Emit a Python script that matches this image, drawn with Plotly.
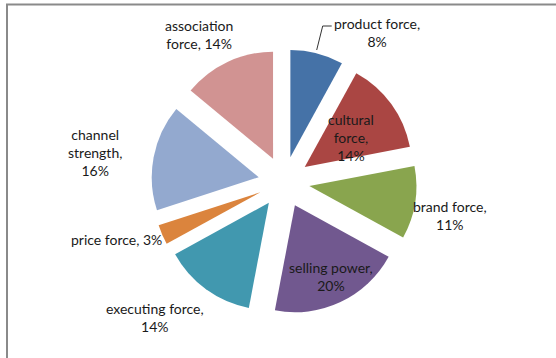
import plotly.graph_objects as go

# Data
labels = ["product force", "cultural force", "brand force", "selling power",
          "executing force", "price force", "channel strength", "association force"]
values = [8, 14, 11, 20, 14, 3, 16, 14]
label_text = ["product force,<br>8%", "cultural<br>force,<br>14%", "brand force,<br>11%",
              "selling power,<br>20%", "executing force,<br>14%", "price force, 3%",
              "channel<br>strength,<br>16%", "association<br>force, 14%"]
colors = ["#4572A7", "#AA4643", "#89A54E", "#71588F",
          "#4198AF", "#DB843D", "#93A9CF", "#D19392"]

W, H = 556, 358
# label centers in pixels (layout)
label_pos = [(377, 32), (351, 137), (450, 215), (331, 276),
             (155, 317), (116, 239), (95, 152), (199, 35)]

fig = go.Figure(go.Pie(
    labels=labels, values=values, sort=False, direction="clockwise", rotation=0,
    pull=[0.24] * len(values),
    marker=dict(colors=colors, line=dict(width=0)),
    textinfo="none", hoverinfo="label+percent", showlegend=False,
    domain=dict(x=[0.2721, 0.7494], y=[0.1209, 0.8623]),
))

for t, (px, py) in zip(label_text, label_pos):
    fig.add_annotation(x=px / W, y=1 - py / H, xref="paper", yref="paper",
                       text=t, showarrow=False, xanchor="center", yanchor="middle",
                       font=dict(family="Lato", size=14, color="#1a1a1a"))

# leader line for product force
fig.add_shape(type="path", xref="paper", yref="paper",
              path=f"M {316.7/W} {1-50/H} L {322.7/W} {1-26/H} L {331.7/W} {1-26/H}",
              line=dict(color="#333333", width=1))

# chart border (extends past the right and bottom edges)
fig.add_shape(type="rect", xref="paper", yref="paper",
              x0=7 / W, y0=-0.1, x1=1.1, y1=1 - 4.5 / H,
              line=dict(color="#8a8a8a", width=2))

fig.update_layout(width=W, height=H, margin=dict(l=0, r=0, t=0, b=0),
                  paper_bgcolor="white", plot_bgcolor="white")
fig.write_html("out.html")
